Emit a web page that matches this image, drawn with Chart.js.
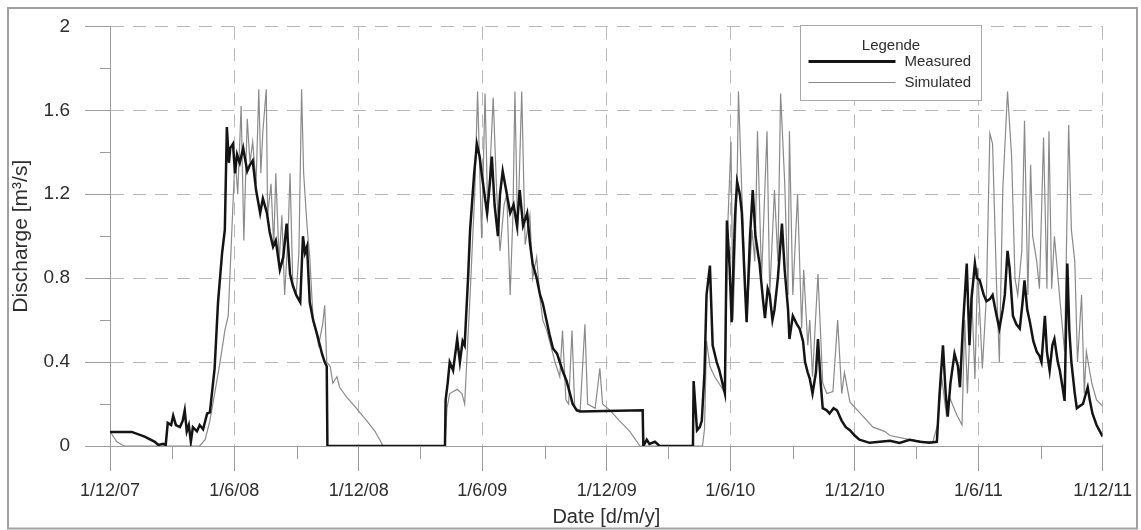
<!DOCTYPE html>
<html>
<head>
<meta charset="utf-8">
<script src="https://cdn.jsdelivr.net/npm/chart.js@4.4.1/dist/chart.umd.min.js"></script>
<style>
  html, body { margin: 0; padding: 0; background: #fff; }
  #wrap { position: relative; width: 1141px; height: 530px; }
</style>
</head>
<body>
<div id="wrap"><canvas id="chartCanvas" width="1141" height="530"></canvas></div>
<script>
// days counted from 1/12/2007
const tickDays = [0, 183, 366, 548, 731, 913, 1096, 1278, 1461];
const tickLabels = ['1/12/07', '1/6/08', '1/12/08', '1/6/09', '1/12/09', '1/6/10', '1/12/10', '1/6/11', '1/12/11'];
const minorDays = [91, 275, 456, 640, 821, 1005, 1186, 1370];
const minorQ = [0.2, 0.6, 1.0, 1.4, 1.8];

const measuredDays = [
  0, 32, 51, 66, 71, 78, 82, 85, 90, 93,
  97, 103, 107, 110, 113, 116, 119, 122, 128, 132,
  137, 143, 147, 152, 154, 159, 165, 169, 172, 175,
  177, 181, 184, 187, 191, 196, 202, 206, 210, 215,
  221, 225, 231, 235, 240, 244, 250, 255, 260, 265,
  269, 274, 280, 284, 287, 290, 294, 299, 305, 312,
  316, 319, 320, 400, 493, 494, 497, 500, 505, 511,
  515, 519, 522, 527, 530, 536, 540, 544, 547, 552,
  555, 559, 562, 566, 571, 574, 578, 583, 589, 594,
  599, 603, 608, 614, 618, 622, 628, 633, 637, 643,
  647, 652, 658, 662, 666, 672, 677, 681, 687, 692,
  784, 785, 790, 794, 802, 809, 858, 859, 864, 868,
  871, 875, 878, 883, 887, 893, 897, 905, 908, 912,
  915, 920, 923, 927, 930, 934, 937, 942, 946, 950,
  956, 961, 964, 968, 971, 975, 978, 983, 989, 993,
  998, 1000, 1005, 1011, 1015, 1020, 1023, 1027, 1030, 1034,
  1039, 1042, 1046, 1049, 1055, 1059, 1065, 1070, 1077, 1083,
  1089, 1096, 1103, 1118, 1133, 1148, 1162, 1177, 1192, 1206,
  1217, 1221, 1226, 1230, 1233, 1237, 1243, 1248, 1251, 1255,
  1261, 1265, 1268, 1273, 1276, 1280, 1286, 1290, 1295, 1299,
  1305, 1309, 1314, 1317, 1321, 1324, 1329, 1334, 1339, 1343,
  1346, 1350, 1354, 1359, 1364, 1368, 1371, 1376, 1379, 1383,
  1387, 1390, 1395, 1398, 1402, 1405, 1409, 1412, 1415, 1420,
  1423, 1427, 1432, 1439, 1442, 1446, 1452, 1457, 1461
];
const measuredQ = [
  0.067, 0.067, 0.045, 0.02, 0.005, 0.01, 0.005, 0.11, 0.10, 0.145,
  0.10, 0.09, 0.12, 0.17, 0.07, 0.10, 0.02, 0.09, 0.07, 0.10,
  0.08, 0.155, 0.16, 0.31, 0.37, 0.685, 0.92, 1.03, 1.52, 1.35,
  1.42, 1.44, 1.30, 1.39, 1.35, 1.42, 1.31, 1.34, 1.36, 1.22,
  1.11, 1.18, 1.11, 1.02, 0.95, 0.98, 0.84, 0.90, 1.06, 0.82,
  0.765, 0.72, 0.685, 1.0, 0.92, 0.95, 0.685, 0.60, 0.53, 0.44,
  0.40, 0.38, 0, 0, 0, 0.22, 0.30, 0.40, 0.36, 0.51,
  0.40, 0.50, 0.48, 0.80, 1.03, 1.30, 1.44, 1.38, 1.30, 1.18,
  1.11, 1.25, 1.38, 1.15, 1.0, 1.20, 1.31, 1.22, 1.11, 1.15,
  1.05, 1.22, 1.05, 1.11, 0.97, 0.87, 0.80, 0.72, 0.68, 0.59,
  0.53, 0.465, 0.44, 0.40, 0.36, 0.31, 0.25, 0.20, 0.17, 0.165,
  0.17, 0, 0.03, 0.01, 0.02, 0, 0, 0.31, 0.075, 0.09,
  0.12, 0.35, 0.72, 0.86, 0.48, 0.40, 0.36, 0.25, 1.075, 0.85,
  0.59, 1.10, 1.26, 1.20, 1.11, 0.80, 0.59, 1.0, 1.22, 1.0,
  0.87, 0.70, 0.61, 0.75, 0.72, 0.60, 0.65, 0.80, 1.06, 0.84,
  0.65, 0.51, 0.62, 0.58, 0.56, 0.50, 0.40, 0.35, 0.32, 0.25,
  0.35, 0.51, 0.30, 0.18, 0.17, 0.155, 0.18, 0.17, 0.12, 0.09,
  0.075, 0.05, 0.03, 0.015, 0.02, 0.025, 0.015, 0.03, 0.02, 0.015,
  0.02, 0.25, 0.48, 0.25, 0.14, 0.30, 0.44, 0.38, 0.28, 0.55,
  0.87, 0.48, 0.70, 0.87, 0.80, 0.79, 0.72, 0.69, 0.70, 0.72,
  0.62, 0.56, 0.65, 0.72, 0.93, 0.85, 0.62, 0.58, 0.56, 0.68,
  0.79, 0.65, 0.59, 0.50, 0.45, 0.43, 0.40, 0.62, 0.45, 0.36,
  0.48, 0.51, 0.40, 0.36, 0.28, 0.215, 0.87, 0.55, 0.40, 0.25,
  0.18, 0.19, 0.20, 0.28, 0.22, 0.155, 0.10, 0.07, 0.045
];

const simulatedDays = [
  0, 4, 10, 18, 22, 132, 140, 147, 154, 162,
  169, 174, 179, 184, 188, 193, 197, 202, 206, 210,
  215, 219, 222, 225, 230, 232, 237, 241, 244, 249,
  253, 257, 262, 265, 269, 274, 278, 282, 285, 290,
  294, 299, 303, 307, 313, 316, 319, 324, 328, 334,
  338, 349, 360, 378, 390, 402, 493, 496, 500, 511,
  518, 522, 530, 537, 541, 547, 552, 556, 559, 564,
  569, 574, 580, 584, 589, 593, 596, 600, 603, 606,
  611, 618, 622, 628, 633, 637, 643, 647, 655, 662,
  666, 671, 675, 680, 684, 692, 699, 703, 714, 721,
  725, 736, 750, 765, 780, 872, 875, 878, 883, 890,
  900, 905, 909, 914, 917, 923, 925, 930, 937, 945,
  949, 953, 959, 967, 971, 978, 983, 987, 993, 998,
  1000, 1005, 1012, 1018, 1021, 1027, 1030, 1034, 1042, 1049,
  1055, 1064, 1071, 1077, 1081, 1089, 1103, 1123, 1140, 1148,
  1177, 1199, 1211, 1218, 1224, 1231, 1236, 1246, 1254, 1258,
  1262, 1268, 1273, 1277, 1284, 1290, 1295, 1299, 1305, 1309,
  1314, 1321, 1327, 1332, 1336, 1342, 1346, 1351, 1355, 1358,
  1364, 1368, 1374, 1379, 1382, 1386, 1390, 1398, 1405, 1411,
  1415, 1420, 1424, 1430, 1434, 1437, 1445, 1452, 1461
];
const simulatedQ = [
  0.07, 0.05, 0.02, 0.005, 0, 0, 0.03, 0.12, 0.25, 0.40,
  0.55, 0.62, 1.0, 1.38, 1.2, 1.62, 0.98, 1.56, 1.35, 1.45,
  1.25, 1.70, 1.30, 1.50, 1.70, 1.10, 1.25, 0.95, 1.30, 0.88,
  1.10, 0.72, 1.00, 1.30, 0.78, 0.72, 0.92, 1.70, 1.30, 1.05,
  0.90, 0.60, 0.55, 0.48, 0.58, 0.67, 0.40, 0.38, 0.30, 0.33,
  0.28, 0.23, 0.19, 0.12, 0.07, 0, 0, 0.18, 0.25, 0.27,
  0.25, 0.20, 0.72, 1.22, 1.69, 0.99, 1.68, 1.11, 1.30, 1.66,
  1.22, 0.93, 1.15, 1.20, 0.72, 1.10, 1.69, 1.00, 1.35, 1.69,
  0.96, 1.10, 0.80, 0.90, 0.70, 0.60, 0.55, 0.50, 0.40, 0.33,
  0.55, 0.22, 0.20, 0.55, 0.18, 0.17, 0.58, 0.20, 0.18, 0.37,
  0.20, 0.17, 0.12, 0.07, 0, 0, 0.08, 0.50, 0.38, 0.33,
  0.28, 0.25, 1.03, 1.45, 0.60, 1.26, 1.69, 1.20, 0.60, 1.03,
  0.88, 1.50, 0.80, 1.50, 0.72, 1.22, 0.88, 1.68, 1.26, 0.72,
  1.50, 0.72, 1.20, 0.56, 0.84, 0.48, 0.60, 0.33, 0.82, 0.30,
  0.25, 0.26, 0.60, 0.25, 0.35, 0.21, 0.16, 0.09, 0.07, 0.05,
  0.03, 0.02, 0.02, 0.10, 0.33, 0.15, 0.23, 0.15, 0.10, 0.60,
  0.25, 0.75, 0.32, 0.85, 0.37, 0.72, 1.49, 1.44, 0.75, 0.40,
  1.22, 1.69, 1.38, 0.80, 0.72, 0.93, 1.55, 0.72, 1.34, 1.00,
  0.88, 0.75, 1.47, 0.75, 1.50, 0.75, 1.00, 0.70, 0.45, 1.53,
  1.03, 0.88, 0.40, 0.72, 0.25, 0.45, 0.30, 0.22, 0.19
];

const measuredColor = '#141414';
const simulatedColor = '#8a8a8a';
const gridColor = '#b8b8b8';
const axisColor = '#9c9c9c';
const textColor = '#2e2e2e';
const fontFamily = "'Liberation Sans', Arial, sans-serif";

function toPoints(days, q) {
  return days.map((d, i) => ({ x: d, y: q[i] }));
}

// minor ticks, legend box and outer frame
const extras = {
  id: 'extras',
  afterDraw(chart) {
    const { ctx, scales: { x, y } } = chart;
    ctx.save();
    ctx.strokeStyle = axisColor;
    ctx.lineWidth = 1;
    minorDays.forEach(d => {
      const px = Math.round(x.getPixelForValue(d)) + 0.5;
      ctx.beginPath();
      ctx.moveTo(px, y.bottom);
      ctx.lineTo(px, y.bottom + 13);
      ctx.stroke();
    });
    minorQ.forEach(v => {
      const py = Math.round(y.getPixelForValue(v)) + 0.5;
      ctx.beginPath();
      ctx.moveTo(x.left - 10, py);
      ctx.lineTo(x.left, py);
      ctx.stroke();
    });

    // legend
    const bx = 800.5, by = 25.5, bw = 181, bh = 75;
    ctx.fillStyle = '#fff';
    ctx.fillRect(bx, by, bw, bh);
    ctx.strokeStyle = '#a8a8a8';
    ctx.strokeRect(bx, by, bw, bh);
    ctx.fillStyle = textColor;
    ctx.font = '15px ' + fontFamily;
    ctx.textBaseline = 'middle';
    ctx.textAlign = 'center';
    ctx.fillText('Legende', bx + bw / 2, by + 20);
    ctx.textAlign = 'left';
    chart.data.datasets.forEach((ds, i) => {
      const ly = by + 36 + i * 21;
      ctx.strokeStyle = ds.borderColor;
      ctx.lineWidth = i === 0 ? 3 : 1.2;
      ctx.beginPath();
      ctx.moveTo(bx + 8, ly);
      ctx.lineTo(bx + 95, ly);
      ctx.stroke();
      ctx.fillText(ds.label, bx + 104, ly);
    });

    // outer frame
    ctx.strokeStyle = '#a0a0a0';
    ctx.lineWidth = 2;
    ctx.strokeRect(8, 8, 1129, 520.5);
    ctx.restore();
  }
};

new Chart(document.getElementById('chartCanvas').getContext('2d'), {
  type: 'line',
  data: {
    datasets: [{
      label: 'Measured',
      data: toPoints(measuredDays, measuredQ),
      borderColor: measuredColor,
      borderWidth: 2.5,
      pointRadius: 0,
      tension: 0,
      fill: false
    }, {
      label: 'Simulated',
      data: toPoints(simulatedDays, simulatedQ),
      borderColor: simulatedColor,
      borderWidth: 1.2,
      pointRadius: 0,
      tension: 0,
      fill: false
    }]
  },
  options: {
    responsive: false,
    animation: false,
    layout: { padding: { top: 20, right: 38, bottom: 0, left: 0 } },
    plugins: {
      legend: { display: false },
      tooltip: { enabled: false }
    },
    scales: {
      x: {
        type: 'linear',
        min: 0,
        max: 1461,
        afterBuildTicks: scale => {
          scale.ticks = tickDays.map(v => ({ value: v }));
        },
        afterFit: scale => { scale.height = 84; },
        ticks: {
          autoSkip: false,
          maxRotation: 0,
          minRotation: 0,
          padding: 9,
          color: textColor,
          font: { family: fontFamily, size: 18 },
          callback: (v, i) => tickLabels[i]
        },
        grid: { color: gridColor, lineWidth: 1, tickLength: 25, tickColor: axisColor },
        border: { display: true, color: axisColor, width: 1, dash: [13, 9] },
        title: {
          display: true,
          text: 'Date [d/m/y]',
          color: textColor,
          font: { family: fontFamily, size: 20 },
          padding: { top: 0, bottom: 1 }
        }
      },
      y: {
        min: 0,
        max: 2,
        afterFit: scale => { scale.width = 110; },
        ticks: {
          stepSize: 0.4,
          padding: 15,
          color: textColor,
          font: { family: fontFamily, size: 19 },
          callback: v => String(Math.round(v * 10) / 10)
        },
        grid: { color: gridColor, lineWidth: 1, tickLength: 25, tickColor: axisColor },
        border: { display: true, color: axisColor, width: 1, dash: [13, 9] },
        title: {
          display: true,
          text: 'Discharge [m³/s]',
          color: textColor,
          font: { family: fontFamily, size: 21 },
          padding: { top: 9, bottom: 0 }
        }
      }
    }
  },
  plugins: [extras]
});
</script>
</body>
</html>
